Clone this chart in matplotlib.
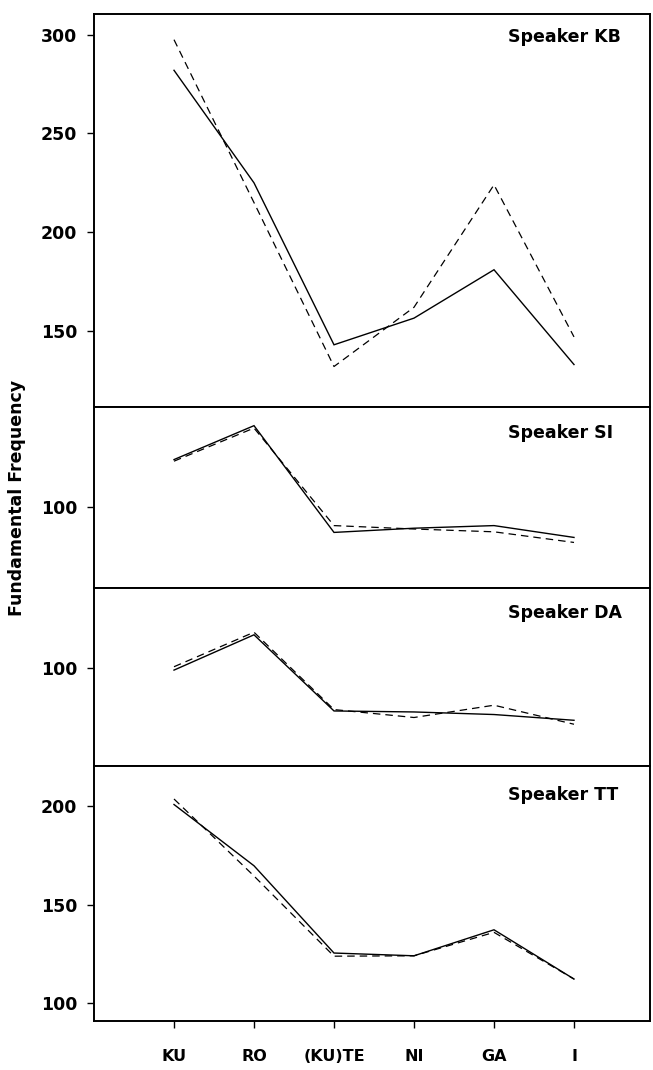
import matplotlib
matplotlib.use("Agg")
import matplotlib.pyplot as plt

plt.rcParams['font.family'] = ['DejaVu Sans']

syllables = ["KU", "RO", "(KU)TE", "NI", "GA", "I"]

speakers = ["KB", "SI", "DA", "TT"]

kb_solid = [282, 225, 143, 156.5, 181, 133]
kb_dashed = [297.5, 215, 132, 162, 224, 147]

si_solid = [123.6, 140.5, 87.3, 89.4, 90.7, 84.8]
si_dashed = [122.8, 139.3, 90.7, 89.0, 87.6, 82.3]

da_solid = [99.1, 116.9, 78.5, 78.0, 76.7, 73.8]
da_dashed = [100.8, 118.2, 79.2, 75.2, 81.4, 71.8]

tt_solid = [200.9, 169.8, 125.5, 124.1, 137.3, 112.3]
tt_dashed = [203.7, 164.6, 123.9, 124.1, 136.0, 112.3]

yticks = [[150, 200, 250, 300], [100], [100], [100, 150, 200]]
ylims = [(111.5, 310.5), (59.6, 149.8), (51.0, 140.5), (91.0, 220.7)]

W, H = 653, 1070
fig = plt.figure(figsize=(W / 100, H / 100), dpi=100)

left_px, right_px = 94, 650
bounds_px = [(14, 407), (407, 588), (588, 765.5), (765.5, 1021)]

series = [(kb_solid, kb_dashed), (si_solid, si_dashed),
          (da_solid, da_dashed), (tt_solid, tt_dashed)]

label_pos = [37, 433, 613, 795]

x = list(range(1, len(syllables) + 1))
axes = []
for i, ((top, bot), (sol, das)) in enumerate(zip(bounds_px, series)):
    ax = fig.add_axes([left_px / W, 1 - bot / H, (right_px - left_px) / W, (bot - top) / H])
    ax.plot(x, sol, color='black', lw=1.0, solid_joinstyle='miter')
    ax.plot(x, das, color='black', lw=0.9, dashes=(6, 4))
    ax.set_xlim(0, 6.95)
    ax.set_ylim(*ylims[i])
    ax.set_yticks(yticks[i])
    ax.set_yticklabels([str(v) for v in yticks[i]], fontsize=12.5, fontweight='bold')
    ax.tick_params(axis='y', direction='out', length=5, width=1.0, pad=7)
    for s in ax.spines.values():
        s.set_linewidth(1.4)
    if i < 3:
        ax.set_xticks([])
    else:
        ax.set_xticks(x)
        ax.set_xticklabels(syllables, fontsize=11.5, fontweight='bold')
        ax.tick_params(axis='x', direction='out', length=5, width=1.0, pad=15)
    ax.text(0.745, 1 - (label_pos[i] - top) / (bot - top), "Speaker " + speakers[i],
            transform=ax.transAxes, ha='left', va='center', fontsize=12.5, fontweight='bold')
    axes.append(ax)

fig.text(17 / W, 1 - 498 / H, "Fundamental Frequency", rotation=90, ha='center', va='center',
         fontsize=12.5, fontweight='bold')

fig.savefig("out.png", dpi=100)
